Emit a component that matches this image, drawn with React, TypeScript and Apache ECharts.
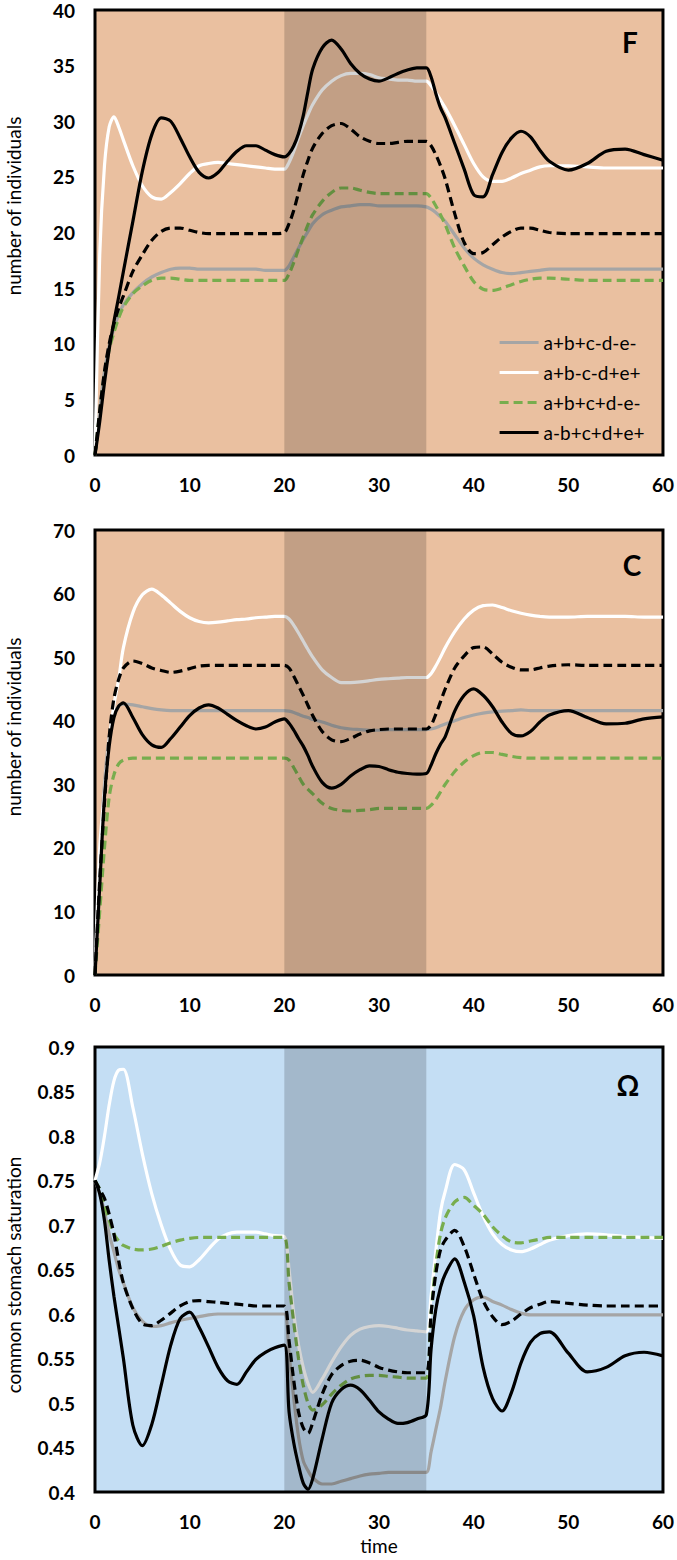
import React, { useEffect, useRef } from "react";
import * as echarts from "echarts";

// time axis (shared by all series)
const T = [0, 0.5, 1, 1.5, 2, 2.5, 3,
  4, 5, 6, 7, 8, 9, 10, 11, 12, 13, 14, 15, 16, 17, 18, 19, 20,
  20.5, 21, 21.5, 22, 22.5, 23,
  24, 25, 26, 27, 28, 29, 30, 31, 32, 33, 34, 35,
  35.5, 36, 36.5, 37,
  38, 39, 40, 41, 42, 43, 44, 45, 46, 47, 48,
  50, 52, 54, 56, 58, 60];

const BAND = [20, 35];

const LEGEND_NAMES = ["a+b+c-d-e-", "a+b-c-d+e+", "a+b+c+d-e-", "a-b+c+d+e+"];
const DASHED_BLACK_NAME = "a-b+c+d+e- (dashed)";

// Panel F: number of individuals
const F_grey = [0, 4, 7.5, 9.8, 11.4, 12.6, 13.5,
  14.6, 15.4, 16.0, 16.4, 16.7, 16.8, 16.8, 16.7, 16.7, 16.7, 16.7, 16.7, 16.7, 16.7, 16.6, 16.6, 16.6,
  17.0, 17.8, 18.6, 19.4, 20.1, 20.8,
  21.6, 22.0, 22.3, 22.4, 22.5, 22.5, 22.4, 22.4, 22.4, 22.4, 22.4, 22.3,
  22.1, 21.8, 21.4, 21.0,
  19.8, 18.6, 17.7, 17.1, 16.7, 16.4, 16.3, 16.4, 16.5, 16.6, 16.7,
  16.7, 16.7, 16.7, 16.7, 16.7, 16.7];
const F_white = [0, 18, 26, 29.5, 30.4, 29.5, 28.3,
  26.0, 24.2, 23.2, 23.0, 23.6, 24.4, 25.3, 26.0, 26.2, 26.3, 26.2, 26.1, 26.0, 25.9, 25.8, 25.7, 25.7,
  26.3, 27.3, 28.5, 29.6, 30.6, 31.5,
  32.8, 33.6, 34.1, 34.3, 34.3, 34.2, 33.9, 33.8, 33.7, 33.7, 33.6, 33.6,
  33.2, 32.6, 31.9, 31.2,
  29.6, 27.9, 26.2, 25.0, 24.6, 24.6, 24.9, 25.3, 25.6, 25.9, 26.0,
  26.0, 25.9, 25.8, 25.8, 25.8, 25.8];
const F_green = [0, 3.8, 7.2, 9.5, 11.0, 12.3, 13.3,
  14.5, 15.2, 15.7, 15.9, 15.9, 15.8, 15.7, 15.7, 15.7, 15.7, 15.7, 15.7, 15.7, 15.7, 15.7, 15.7, 15.7,
  16.3, 17.3, 18.5, 19.6, 20.7, 21.6,
  22.8, 23.6, 24.0, 24.0, 23.8, 23.6, 23.5, 23.5, 23.5, 23.5, 23.5, 23.5,
  23.1, 22.4, 21.6, 20.7,
  18.6, 17.0, 15.6, 14.9, 14.8, 15.0, 15.3, 15.6, 15.8, 15.9, 15.9,
  15.8, 15.7, 15.7, 15.7, 15.7, 15.7];
const F_blackDash = [0, 4, 7.5, 10, 11.8, 13.2, 14.3,
  16.5, 18.0, 19.3, 20.1, 20.4, 20.4, 20.2, 20.0, 19.9, 19.9, 19.9, 19.9, 19.9, 19.9, 19.9, 19.9, 20.0,
  20.8, 22.0, 23.6, 25.2, 26.5, 27.6,
  28.9, 29.6, 29.8, 29.3, 28.6, 28.2, 28.0, 28.0, 28.1, 28.2, 28.2, 28.2,
  27.8, 27.0, 26.0, 24.8,
  21.7, 19.1, 18.1, 18.2, 18.9, 19.6, 20.1, 20.4, 20.4, 20.2, 20.0,
  19.9, 19.9, 19.9, 19.9, 19.9, 19.9];
const F_black = [0, 3, 6.5, 9.5, 12, 14.2, 16.5,
  21.0, 25.5, 28.8, 30.3, 30.0, 28.5, 26.8, 25.4, 24.9, 25.4, 26.4, 27.3, 27.8, 27.8, 27.4, 27.0, 26.8,
  27.1, 27.8, 28.9, 30.5, 32.7, 34.7,
  36.6, 37.3, 36.5, 35.2, 34.3, 33.8, 33.6, 33.9, 34.3, 34.6, 34.8, 34.8,
  34.0, 32.5, 31.2, 30.3,
  28.0, 25.7, 23.4, 23.2, 25.2, 27.2, 28.5, 29.1, 28.6, 27.4, 26.4,
  25.6, 26.2, 27.3, 27.5, 27.0, 26.5];

// Panel C: number of individuals
const C_grey = [0, 18, 30, 37.5, 41, 42.3, 42.6,
  42.5, 42.2, 41.9, 41.7, 41.6, 41.6, 41.6, 41.6, 41.6, 41.6, 41.6, 41.6, 41.6, 41.6, 41.6, 41.6, 41.6,
  41.5, 41.3, 41.0, 40.7, 40.5, 40.2,
  39.8, 39.3, 38.9, 38.7, 38.6, 38.5, 38.5, 38.6, 38.6, 38.6, 38.6, 38.6,
  38.7, 38.9, 39.2, 39.5,
  40.0, 40.5, 40.9, 41.2, 41.4, 41.5, 41.6, 41.7, 41.6, 41.6, 41.6,
  41.6, 41.6, 41.6, 41.6, 41.6, 41.6];
const C_white = [0, 20, 29, 37, 42.5, 46.5, 51.5,
  57.0, 59.8, 60.7, 59.8, 58.5, 57.2, 56.2, 55.6, 55.4, 55.5, 55.7, 55.9, 56.0, 56.2, 56.3, 56.4, 56.4,
  56.0, 55.0, 53.8, 52.5, 51.2, 50.0,
  48.0, 46.8, 46.0, 46.0, 46.1, 46.3, 46.5, 46.6, 46.7, 46.8, 46.8, 46.8,
  47.4, 48.6, 50.0, 51.5,
  54.0, 56.0, 57.4, 58.1, 58.2, 57.8, 57.3, 56.9, 56.6, 56.4, 56.3,
  56.3, 56.4, 56.4, 56.4, 56.3, 56.3];
const C_green = [0, 10, 20, 28, 31.5, 33.2, 33.8,
  34.1, 34.1, 34.1, 34.1, 34.1, 34.1, 34.1, 34.1, 34.1, 34.1, 34.1, 34.1, 34.1, 34.1, 34.1, 34.1, 34.1,
  33.8, 32.6, 31.3, 30.0, 29.2, 28.5,
  27.0, 26.2, 25.9, 25.8, 25.9, 26.0, 26.2, 26.2, 26.2, 26.2, 26.2, 26.2,
  26.7, 27.6, 28.8, 30.0,
  32.0, 33.5, 34.5, 35.0, 35.0, 34.7, 34.4, 34.2, 34.1, 34.1, 34.1,
  34.1, 34.1, 34.1, 34.1, 34.1, 34.1];
const C_blackDash = [0, 15, 27, 37.5, 43.5, 46.5, 48.3,
  49.4, 49.0, 48.3, 47.9, 47.6, 47.8, 48.2, 48.6, 48.7, 48.7, 48.7, 48.7, 48.7, 48.7, 48.7, 48.7, 48.7,
  48.3, 47.0, 45.5, 44.0, 42.4, 40.8,
  38.3, 37.0, 36.7, 37.2, 37.9, 38.4, 38.6, 38.7, 38.7, 38.7, 38.7, 38.7,
  39.3, 41.0, 43.0, 45.0,
  48.3, 50.2, 51.5, 51.6, 50.5, 49.2, 48.4, 48.0, 48.0, 48.3, 48.6,
  48.8, 48.7, 48.7, 48.7, 48.7, 48.7];
const C_black = [0, 14, 28, 36, 40.5, 42.3, 42.8,
  40.5, 37.8, 36.2, 35.8, 37.2, 39.0, 40.8, 42.0, 42.5, 42.0, 41.0, 40.0, 39.2, 38.7, 39.0, 39.8, 40.3,
  39.6, 38.5, 37.2, 36.0, 34.5, 32.8,
  30.3, 29.4, 30.0, 31.3, 32.3, 32.9, 32.8, 32.3, 31.9, 31.7, 31.6, 31.7,
  33.0, 34.8, 36.3, 37.5,
  41.5, 44.0, 45.0, 44.0, 42.2, 39.8, 38.0, 37.6, 38.3, 39.8, 40.9,
  41.6, 40.5, 39.5, 39.6, 40.3, 40.6];

// Panel Omega: common stomach saturation
const O_grey = [0.75, 0.735, 0.715, 0.69, 0.67, 0.65, 0.635,
  0.607, 0.592, 0.586, 0.587, 0.590, 0.593, 0.595, 0.597, 0.599, 0.600, 0.600, 0.600, 0.600, 0.600, 0.600, 0.600, 0.600,
  0.555, 0.505, 0.462, 0.435, 0.424, 0.416,
  0.409, 0.409, 0.412, 0.415, 0.418, 0.420, 0.421, 0.422, 0.422, 0.422, 0.422, 0.422,
  0.445, 0.470, 0.495, 0.525,
  0.575, 0.604, 0.616, 0.619, 0.614, 0.610, 0.605, 0.601, 0.599, 0.599, 0.599,
  0.599, 0.599, 0.599, 0.599, 0.599, 0.599];
const O_white = [0.75, 0.77, 0.80, 0.835, 0.862, 0.874, 0.875,
  0.832, 0.78, 0.735, 0.70, 0.672, 0.655, 0.653, 0.661, 0.673, 0.684, 0.690, 0.692, 0.692, 0.692, 0.690, 0.688, 0.687,
  0.650, 0.600, 0.565, 0.540, 0.522, 0.512,
  0.527, 0.546, 0.563, 0.576, 0.583, 0.586, 0.587, 0.586, 0.584, 0.582, 0.581, 0.580,
  0.620, 0.670, 0.715, 0.738,
  0.768, 0.762, 0.736, 0.710, 0.690, 0.678, 0.672, 0.670, 0.673, 0.678, 0.683,
  0.688, 0.690, 0.689, 0.687, 0.686, 0.685];
const O_green = [0.75, 0.74, 0.722, 0.705, 0.69, 0.682, 0.677,
  0.673, 0.672, 0.673, 0.676, 0.680, 0.683, 0.685, 0.686, 0.686, 0.686, 0.686, 0.686, 0.686, 0.686, 0.686, 0.686, 0.686,
  0.635, 0.590, 0.550, 0.520, 0.500, 0.492,
  0.498, 0.510, 0.520, 0.527, 0.530, 0.531, 0.531, 0.530, 0.529, 0.528, 0.528, 0.528,
  0.600, 0.655, 0.690, 0.708,
  0.726, 0.731, 0.722, 0.712, 0.698, 0.688, 0.681, 0.680, 0.682, 0.684, 0.686,
  0.686, 0.686, 0.686, 0.686, 0.686, 0.686];
const O_blackDash = [0.75, 0.74, 0.73, 0.712, 0.69, 0.66, 0.635,
  0.606, 0.589, 0.587, 0.593, 0.601, 0.609, 0.614, 0.615, 0.614, 0.613, 0.612, 0.611, 0.610, 0.609, 0.609, 0.609, 0.609,
  0.570, 0.525, 0.490, 0.472, 0.466, 0.478,
  0.510, 0.532, 0.542, 0.547, 0.548, 0.545, 0.540, 0.537, 0.535, 0.534, 0.534, 0.534,
  0.600, 0.645, 0.672, 0.683,
  0.694, 0.676, 0.645, 0.615, 0.597, 0.588, 0.592, 0.600, 0.607, 0.611, 0.614,
  0.612, 0.610, 0.609, 0.609, 0.609, 0.609];
const O_black = [0.75, 0.735, 0.705, 0.66, 0.62, 0.585, 0.55,
  0.475, 0.452, 0.476, 0.52, 0.565, 0.595, 0.602, 0.585, 0.563, 0.54, 0.525, 0.521, 0.535, 0.549, 0.557, 0.562, 0.565,
  0.49, 0.455, 0.43, 0.41, 0.403, 0.415,
  0.46, 0.50, 0.515, 0.52, 0.515, 0.503, 0.49, 0.482, 0.477, 0.478, 0.482, 0.487,
  0.56, 0.605, 0.63, 0.645,
  0.662, 0.636, 0.598, 0.54, 0.505, 0.491, 0.512, 0.545, 0.568, 0.578, 0.58,
  0.556, 0.535, 0.54, 0.553, 0.557, 0.553];

const PANELS = [
  { label: "F", yTitle: "number of individuals", min: 0, max: 40, interval: 5,
    grey: F_grey, white: F_white, green: F_green, blackDash: F_blackDash, black: F_black },
  { label: "C", yTitle: "number of individuals", min: 0, max: 70, interval: 10,
    grey: C_grey, white: C_white, green: C_green, blackDash: C_blackDash, black: C_black },
  { label: "Ω", yTitle: "common stomach saturation", min: 0.4, max: 0.9, interval: 0.05,
    grey: O_grey, white: O_white, green: O_green, blackDash: O_blackDash, black: O_black },
];

const GRID_TOPS = [10, 530, 1047];
const GRID_H = 445;
const GRID_LEFT = 95;
const GRID_W = 568;
const BG = ["#EAC0A0", "#EAC0A0", "#C4DEF4"];
const Y_TITLE_CENTERS = [206, 727, 1275];
const LABEL_CENTERS = [[630, 42], [632, 565], [628, 1085]];

const FONT = "Lato, 'Open Sans', sans-serif";

export default function App() {
  const ref = useRef<HTMLDivElement>(null);
  useEffect(() => {
    document.body.style.margin = "0";
    if (!ref.current) return;
    const chart = echarts.init(ref.current, null, { renderer: "svg" });

    const grids: any[] = [];
    const xAxes: any[] = [];
    const yAxes: any[] = [];
    const series: any[] = [];
    const graphics: any[] = [];

    PANELS.forEach((p, g) => {
      grids.push({
        left: GRID_LEFT, top: GRID_TOPS[g], width: GRID_W, height: GRID_H,
        show: true, backgroundColor: BG[g], borderColor: "#000", borderWidth: 3,
        containLabel: false,
      });
      xAxes.push({
        type: "value", gridIndex: g, min: 0, max: 60, interval: 10,
        axisLine: { show: false }, axisTick: { show: false }, splitLine: { show: false },
        axisLabel: { margin: 20, color: "#000", fontFamily: FONT, fontWeight: "bold", fontSize: 19 },
      });
      yAxes.push({
        type: "value", gridIndex: g, min: p.min, max: p.max, interval: p.interval,
        axisLine: { show: false }, axisTick: { show: false }, splitLine: { show: false },
        axisLabel: {
          margin: 20, color: "#000", fontFamily: FONT, fontWeight: "bold", fontSize: 19,
          formatter: (v: number) => String(Math.round(v * 100) / 100),
        },
      });
      const mk = (name: string, vals: number[], color: string, dashed: boolean) => ({
        type: "line", name, xAxisIndex: g, yAxisIndex: g,
        data: T.map((t, i) => [t, vals[i]]),
        symbol: "none", smooth: 0.3, z: 2,
        lineStyle: { color, width: 3.2, type: dashed ? [9, 5] : "solid" },
        itemStyle: { color },
        emphasis: { disabled: true },
      });
      series.push(mk(LEGEND_NAMES[0], p.grey, "#A5A5A5", false));
      series.push(mk(LEGEND_NAMES[1], p.white, "#FFFFFF", false));
      series.push(mk(LEGEND_NAMES[2], p.green, "#78AD4E", true));
      series.push(mk(DASHED_BLACK_NAME, p.blackDash, "#000000", true));
      series.push(mk(LEGEND_NAMES[3], p.black, "#000000", false));
      // shaded period overlay
      series.push({
        type: "line", name: "band" + g, xAxisIndex: g, yAxisIndex: g,
        data: [[BAND[0], p.min], [BAND[1], p.min]],
        symbol: "none", lineStyle: { opacity: 0 }, z: 3, silent: true,
        markArea: {
          silent: true, z: 10,
          itemStyle: { color: "rgba(0,0,0,0.17)" },
          data: [[{ xAxis: BAND[0] }, { xAxis: BAND[1] }]],
        },
      });
      graphics.push({
        type: "text", x: 13, y: Y_TITLE_CENTERS[g], rotation: Math.PI / 2,
        style: { text: p.yTitle, fill: "#000", font: `19px ${FONT}`, align: "center", verticalAlign: "middle" },
      });
      graphics.push({
        type: "text", x: LABEL_CENTERS[g][0], y: LABEL_CENTERS[g][1],
        style: { text: p.label, fill: "#000", font: `bold 28px ${FONT}`, align: "center", verticalAlign: "middle" },
        z: 20,
      });
    });

    graphics.push({
      type: "text", x: GRID_LEFT + GRID_W / 2, y: 1545,
      style: { text: "time", fill: "#000", font: `19px ${FONT}`, align: "center", verticalAlign: "middle" },
    });

    chart.setOption({
      animation: false,
      grid: grids,
      xAxis: xAxes,
      yAxis: yAxes,
      series,
      legend: {
        data: LEGEND_NAMES,
        orient: "vertical",
        left: 498, top: 333, padding: 0,
        itemWidth: 39, itemHeight: 14, itemGap: 11,
        selectedMode: false,
        itemStyle: { opacity: 0 },
        lineStyle: { width: 3.2 },
        textStyle: { fontFamily: FONT, fontSize: 19, lineHeight: 19, color: "#000" },
      },
      graphic: graphics,
    });
    return () => chart.dispose();
  }, []);
  return <div ref={ref} style={{ width: 677, height: 1560 }} />;
}
